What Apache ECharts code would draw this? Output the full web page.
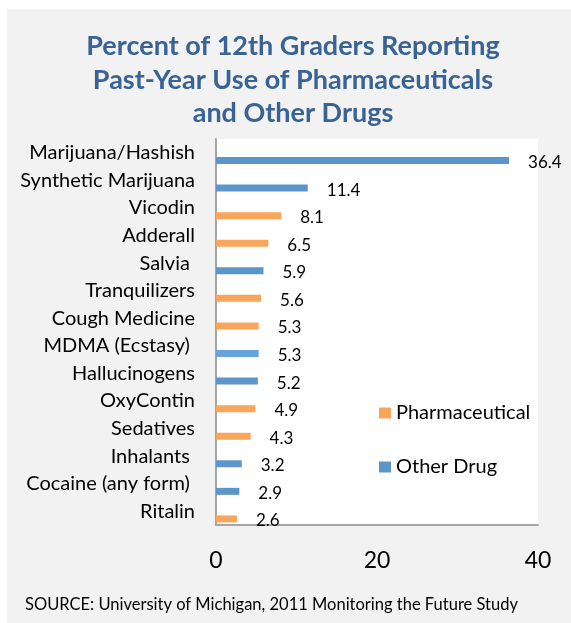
<!DOCTYPE html>
<html>
<head>
<meta charset="utf-8">
<script src="https://cdn.jsdelivr.net/npm/echarts@6/dist/echarts.min.js"></script>
<style>
html,body{margin:0;padding:0;background:#fff;}
#chart{width:571px;height:623px;}
</style>
</head>
<body>
<div id="chart"></div>
<script>
// ---- data ----
var categories = ['Marijuana/Hashish','Synthetic Marijuana','Vicodin','Adderall','Salvia ','Tranquilizers','Cough Medicine','MDMA (Ecstasy) ','Hallucinogens','OxyContin','Sedatives','Inhalants ','Cocaine (any form) ','Ritalin'];
var values = [36.4, 11.4, 8.1, 6.5, 5.9, 5.6, 5.3, 5.3, 5.2, 4.9, 4.3, 3.2, 2.9, 2.6];
var types = ['Other Drug','Other Drug','Pharmaceutical','Pharmaceutical','Other Drug','Pharmaceutical','Pharmaceutical','Other Drug','Other Drug','Pharmaceutical','Pharmaceutical','Other Drug','Other Drug','Pharmaceutical'];
var xTicks = [0, 20, 40];
var seriesNames = ['Pharmaceutical', 'Other Drug'];

var colors = {'Pharmaceutical': '#f9a55a', 'Other Drug': '#5b95c9'};
var font = 'Lato, "Open Sans", sans-serif';

function seriesData(name) {
  return values.map(function (v, i) {
    if (types[i] !== name) return '-';
    var item = {value: v};
    if (i === 7) item.itemStyle = {color: '#66a3de'};
    return item;
  });
}

var chart = echarts.init(document.getElementById('chart'), null, {renderer: 'canvas'});
var labelCfg = {
  show: true, position: 'right', distance: 19, offset: [0, 2],
  color: '#000', fontFamily: font, fontSize: 17
};
var series = [{
  // empty spacer series: shifts the bars to the lower part of each category band
  type: 'bar', name: 'spacer', data: [], barWidth: 7, silent: true
}];
seriesNames.forEach(function (n) {
  series.push({
    type: 'bar', name: n, stack: 'drugs', barWidth: 7, barGap: '120%',
    itemStyle: {color: colors[n]},
    label: labelCfg,
    data: seriesData(n)
  });
});

chart.setOption({
  animation: false,
  backgroundColor: '#ffffff',
  graphic: [{
    type: 'rect', left: 7, top: 9, z: -10,
    shape: {width: 564, height: 614},
    style: {fill: '#f2f2f2'}
  }, {
    type: 'text', left: 25, top: 596,
    style: {text: 'SOURCE: University of Michigan, 2011 Monitoring the Future Study', font: '16.5px Lato, "Open Sans", sans-serif', fill: '#000'}
  }],
  title: {
    text: 'Percent of 12th Graders Reporting\nPast-Year Use of Pharmaceuticals\nand Other Drugs',
    left: 288, textAlign: 'center', top: 25,
    textStyle: {fontFamily: font, fontWeight: 'bold', fontSize: 27, color: '#386394', lineHeight: 33.5}
  },
  legend: {
    data: seriesNames, orient: 'vertical', left: 379, top: 403, padding: 0, itemGap: 34,
    icon: 'rect', itemWidth: 12, itemHeight: 11,
    textStyle: {fontFamily: font, fontSize: 20, color: '#000'},
    selectedMode: false
  },
  grid: {
    left: 216, top: 139, width: 322, height: 386,
    show: true, backgroundColor: '#ffffff', borderWidth: 0, containLabel: false
  },
  xAxis: {
    type: 'value', min: xTicks[0], max: xTicks[xTicks.length - 1], interval: xTicks[1] - xTicks[0],
    splitLine: {show: false},
    axisTick: {show: false},
    axisLine: {show: true, lineStyle: {color: '#a6a6a6', width: 2}},
    axisLabel: {margin: 24, color: '#000', fontFamily: font, fontSize: 23}
  },
  yAxis: {
    type: 'category', data: categories, inverse: true,
    axisTick: {show: false},
    axisLine: {show: true, lineStyle: {color: '#a6a6a6', width: 2}},
    axisLabel: {margin: 21, color: '#000', fontFamily: font, fontSize: 20, padding: [4, 0, 0, 0]}
  },
  series: series
});
</script>
</body>
</html>
